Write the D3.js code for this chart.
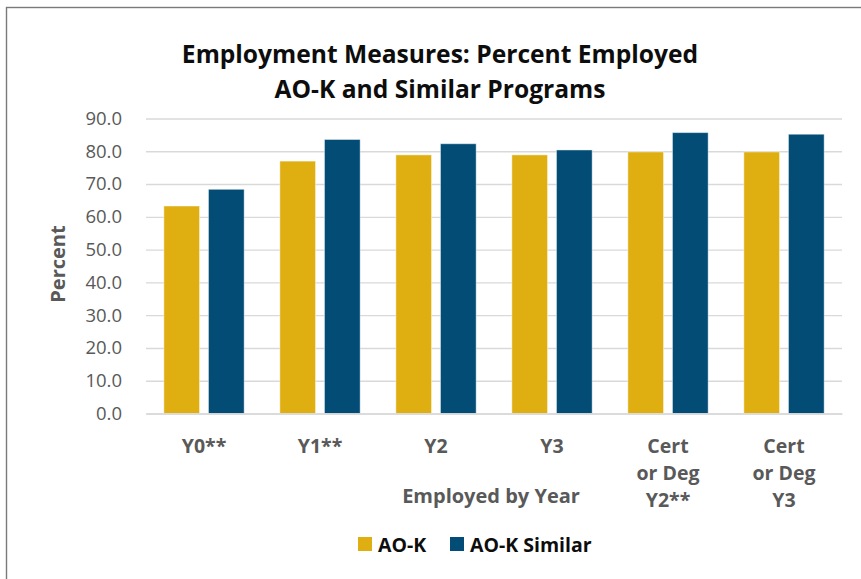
<!DOCTYPE html>
<html>
<head>
<meta charset="utf-8">
<script src="https://cdn.jsdelivr.net/npm/d3@7"></script>
<style>
    body { margin: 0; background: #fff; }
    text { font-family: "Open Sans", "Noto Sans", sans-serif; }
</style>
</head>
<body>
<svg id="chart" width="861" height="579"></svg>
<script>
// Data
var categories = ['Y0**', 'Y1**', 'Y2', 'Y3', 'Cert\nor Deg\nY2**', 'Cert\nor Deg\nY3'];
var seriesNames = ['AO-K', 'AO-K Similar'];
var aokValues = [63.3, 77.0, 78.9, 78.9, 79.8, 79.8];
var similarValues = [68.4, 83.6, 82.3, 80.4, 85.7, 85.2];
var yTicks = [0, 10, 20, 30, 40, 50, 60, 70, 80, 90];
var titleLines = ['Employment Measures: Percent Employed', 'AO-K and Similar Programs'];
var yTitle = 'Percent';
var xTitle = 'Employed by Year';

var seriesColors = { 'AO-K': '#dfaf12', 'AO-K Similar': '#024c76' };
var textGrey = '#595959';

var svg = d3.select('#chart');
var plotLeft = 146, plotRight = 842, plotTop = 118.5, plotBottom = 413.5;

// outer frame (only top/left edges fall inside the picture)
svg.append('rect')
    .attr('x', 6.5).attr('y', 7.5)
    .attr('width', 900).attr('height', 640)
    .attr('fill', 'none')
    .attr('stroke', '#7a7a7a')
    .attr('stroke-width', 1.4);

var x = d3.scaleBand()
    .domain(categories)
    .range([plotLeft, plotRight]);

var x1 = d3.scaleBand()
    .domain(seriesNames)
    .range([0, x.bandwidth()])
    .paddingInner(0.2)
    .paddingOuter(0.4);

var y = d3.scaleLinear()
    .domain([0, 90])
    .range([plotBottom, plotTop]);

// gridlines
var grid = svg.append('g')
    .attr('transform', 'translate(' + plotLeft + ',0)')
    .call(d3.axisLeft(y).tickValues(yTicks).tickSize(-(plotRight - plotLeft)).tickFormat(''));
grid.select('.domain').remove();
grid.selectAll('line')
    .attr('stroke', '#d9d9d9')
    .attr('stroke-width', 1.4);

// y tick labels
var yAxis = svg.append('g')
    .attr('transform', 'translate(122,0)')
    .call(d3.axisLeft(y).tickValues(yTicks).tickSize(0).tickPadding(0).tickFormat(d3.format('.1f')));
yAxis.select('.domain').remove();
yAxis.selectAll('text')
    .attr('fill', textGrey)
    .style('font-family', '"Open Sans", sans-serif')
    .style('font-size', '18.5px');

// bars
var rows = categories.map(function(c, i) {
    return { cat: c, values: [
        { name: seriesNames[0], value: aokValues[i] },
        { name: seriesNames[1], value: similarValues[i] }
    ] };
});

var groups = svg.selectAll('.group')
    .data(rows)
    .enter().append('g')
    .attr('class', 'group')
    .attr('transform', function(d) { return 'translate(' + x(d.cat) + ',0)'; });

groups.selectAll('rect')
    .data(function(d) { return d.values; })
    .enter().append('rect')
    .attr('x', function(d) { return x1(d.name); })
    .attr('y', function(d) { return y(d.value); })
    .attr('width', x1.bandwidth())
    .attr('height', function(d) { return y(0) - y(d.value); })
    .attr('fill', function(d) { return seriesColors[d.name]; })
    .attr('stroke', '#ffffff')
    .attr('stroke-opacity', 0.45)
    .attr('stroke-width', 1);

// x axis line and multi-line category labels
var xAxis = svg.append('g')
    .attr('transform', 'translate(0,' + plotBottom + ')')
    .call(d3.axisBottom(x).tickSize(0).tickFormat(''));
xAxis.select('.domain')
    .attr('stroke', '#d9d9d9')
    .attr('stroke-width', 1.4);

xAxis.selectAll('.tick text').each(function(d) {
    var t = d3.select(this)
        .attr('y', 0).attr('dy', null)
        .attr('fill', textGrey)
        .style('font-family', '"Open Sans", sans-serif')
        .style('font-size', '19.5px')
        .style('font-weight', 'bold');
    d.split('\n').forEach(function(line, i) {
        t.append('tspan')
            .attr('x', 0)
            .attr('y', 39.5 + i * 27)
            .text(line);
    });
});

// axis titles
svg.append('text')
    .attr('transform', 'translate(65,264) rotate(-90)')
    .attr('text-anchor', 'middle')
    .attr('fill', textGrey)
    .style('font-size', '20px')
    .style('font-weight', 'bold')
    .text(yTitle);

svg.append('text')
    .attr('x', 491).attr('y', 503)
    .attr('text-anchor', 'middle')
    .attr('fill', textGrey)
    .style('font-size', '20px')
    .style('font-weight', 'bold')
    .text(xTitle);

// chart title
svg.selectAll('.title')
    .data(titleLines)
    .enter().append('text')
    .attr('class', 'title')
    .attr('x', 440)
    .attr('y', function(d, i) { return 63 + i * 34.5; })
    .attr('text-anchor', 'middle')
    .attr('fill', '#0d0d0d')
    .style('font-size', '24.6px')
    .style('font-weight', 'bold')
    .text(function(d) { return d; });

// legend
var legendX = [358, 450];
var legend = svg.selectAll('.legend')
    .data(seriesNames)
    .enter().append('g')
    .attr('class', 'legend')
    .attr('transform', function(d, i) { return 'translate(' + legendX[i] + ',537)'; });
legend.append('rect')
    .attr('width', 14).attr('height', 14)
    .attr('fill', function(d) { return seriesColors[d]; });
legend.append('text')
    .attr('x', 20).attr('y', 15)
    .attr('fill', '#0d0d0d')
    .style('font-size', '19.5px')
    .style('font-weight', 'bold')
    .text(function(d) { return d; });
</script>
</body>
</html>
